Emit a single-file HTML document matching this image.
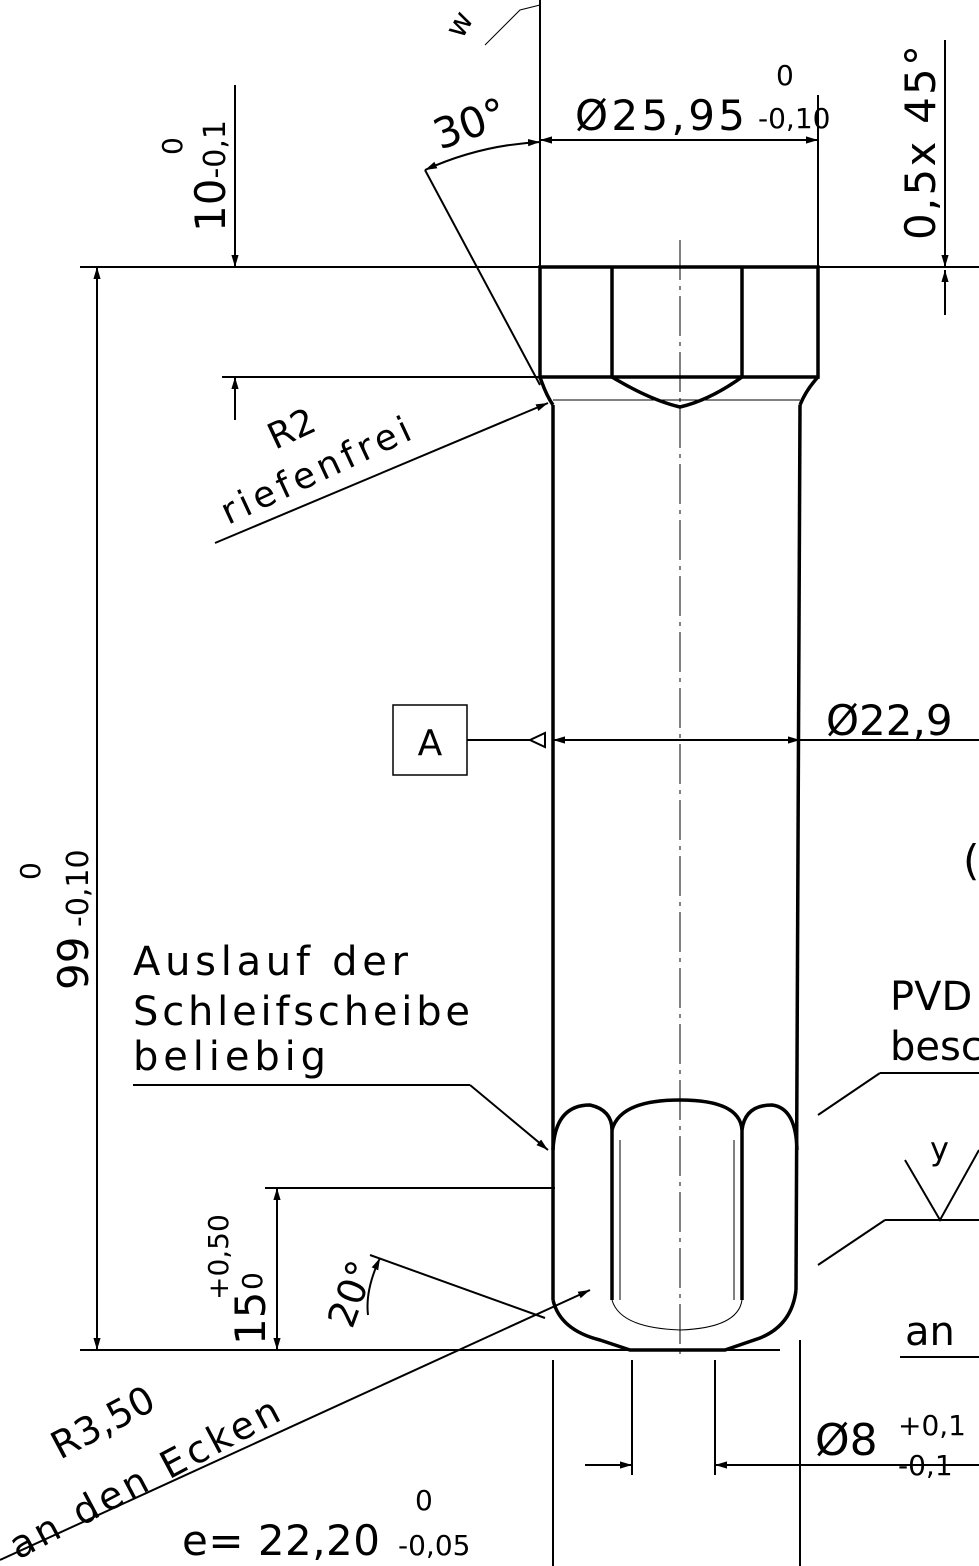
<!DOCTYPE html>
<html><head><meta charset="utf-8"><style>
html,body{margin:0;padding:0;background:#fff}
svg{display:block}
text{font-family:"DejaVu Sans","Liberation Sans",sans-serif;fill:#000}
</style></head><body>
<svg width="979" height="1566" viewBox="0 0 979 1566" xmlns="http://www.w3.org/2000/svg">
<defs>
<marker id="ar" viewBox="0 0 10 10" refX="10" refY="5" markerWidth="12" markerHeight="12" orient="auto-start-reverse" markerUnits="userSpaceOnUse"><path d="M0,2 L10,5 L0,8 z" fill="#000"/></marker>
</defs>
<g stroke="#000" fill="none" stroke-width="2">
<line x1="80" y1="267" x2="979" y2="267"/>
<line x1="80" y1="1350" x2="780" y2="1350"/>
<line x1="222" y1="377" x2="540" y2="377"/>
<line x1="265" y1="1188" x2="555" y2="1188"/>
<line x1="680" y1="240" x2="680" y2="1360" stroke-dasharray="40,6,4,6" stroke-width="1"/>
<path d="M540,267 L818,267 L818,377 L540,377 Z" stroke-width="3.5"/>
<line x1="612" y1="267" x2="612" y2="377" stroke-width="3.5"/>
<line x1="742" y1="267" x2="742" y2="377" stroke-width="3.5"/>
<path d="M612,377 Q650,400 680,407 Q710,400 742,377" stroke-width="3.5"/>
<path d="M540,377 Q546,395 553,405 M818,377 Q806,390 800,405" stroke-width="3.5"/>
<line x1="553" y1="400" x2="800" y2="400" stroke-width="1"/>
<line x1="553" y1="405" x2="553" y2="1300" stroke-width="3.5"/>
<line x1="800" y1="405" x2="796" y2="1290" stroke-width="3.5"/>
<path d="M553,1150 Q555,1105 590,1105 Q612,1110 612,1130 M612,1130 Q620,1100 680,1100 Q740,1100 742,1130 M742,1130 Q745,1105 772,1105 Q796,1108 797,1150" stroke-width="3.5"/>
<line x1="612" y1="1130" x2="612" y2="1300" stroke-width="3.5"/>
<line x1="742" y1="1130" x2="742" y2="1300" stroke-width="3.5"/>
<line x1="620" y1="1140" x2="620" y2="1300" stroke-width="1"/>
<line x1="734" y1="1140" x2="734" y2="1300" stroke-width="1"/>
<path d="M553,1300 Q560,1330 600,1340 L630,1350 L725,1350 L760,1338 Q792,1325 796,1290" stroke-width="3.5"/>
<path d="M612,1300 Q620,1328 680,1330 Q738,1328 742,1300" stroke-width="1"/>
<line x1="97" y1="267" x2="97" y2="1350" marker-start="url(#ar)" marker-end="url(#ar)"/>
<line x1="235" y1="85" x2="235" y2="267" marker-end="url(#ar)"/>
<line x1="235" y1="420" x2="235" y2="377" marker-end="url(#ar)"/>
<line x1="540" y1="0" x2="540" y2="267"/>
<line x1="818" y1="95" x2="818" y2="267"/>
<line x1="540" y1="140" x2="818" y2="140" marker-start="url(#ar)" marker-end="url(#ar)"/>
<line x1="425" y1="170" x2="540" y2="385"/>
<path d="M425,170 Q480,145 540,142" marker-start="url(#ar)" marker-end="url(#ar)"/>
<line x1="945" y1="40" x2="945" y2="267" marker-end="url(#ar)"/>
<line x1="945" y1="315" x2="945" y2="270" marker-end="url(#ar)"/>
<path d="M485,45 L520,10 L540,5" stroke-width="1"/>
<line x1="215" y1="543" x2="548" y2="403" marker-end="url(#ar)"/>
<line x1="467" y1="740" x2="530" y2="740"/>
<path d="M530,740 L545,733 L545,747 Z" fill="none"/>
<line x1="553" y1="740" x2="800" y2="740" marker-start="url(#ar)" marker-end="url(#ar)"/>
<line x1="800" y1="740" x2="979" y2="740"/>
<line x1="133" y1="1085" x2="470" y2="1085"/>
<line x1="470" y1="1085" x2="548" y2="1150" marker-end="url(#ar)"/>
<line x1="880" y1="1073" x2="979" y2="1073"/>
<line x1="880" y1="1073" x2="818" y2="1115"/>
<path d="M905,1160 L940,1220 L979,1150"/>
<line x1="885" y1="1220" x2="979" y2="1220"/>
<line x1="885" y1="1220" x2="818" y2="1265"/>
<line x1="900" y1="1357" x2="979" y2="1357"/>
<line x1="277" y1="1188" x2="277" y2="1350" marker-start="url(#ar)" marker-end="url(#ar)"/>
<line x1="370" y1="1255" x2="545" y2="1318"/>
<path d="M380,1258 Q365,1290 368,1315" marker-start="url(#ar)"/>
<line x1="0" y1="1560" x2="590" y2="1290" marker-end="url(#ar)"/>
<line x1="553" y1="1360" x2="553" y2="1566"/>
<line x1="800" y1="1340" x2="800" y2="1566"/>
<line x1="632" y1="1360" x2="632" y2="1475"/>
<line x1="715" y1="1360" x2="715" y2="1475"/>
<line x1="585" y1="1465" x2="632" y2="1465" marker-end="url(#ar)"/>
<line x1="979" y1="1465" x2="715" y2="1465" marker-end="url(#ar)"/>
</g>
<rect x="393" y="705" width="74" height="70" fill="none" stroke="#000" stroke-width="1.5"/>
<text x="430" y="755" font-size="36" text-anchor="middle">A</text>
<text transform="translate(462,40) rotate(-60)" font-size="30">w</text>
<text transform="translate(440,150) rotate(-20)" font-size="42">30°</text>
<text x="575" y="130" font-size="42" textLength="170">Ø25,95</text>
<text x="758" y="128" font-size="28">-0,10</text>
<text x="776" y="85" font-size="28">0</text>
<text transform="translate(935,240) rotate(-90)" font-size="42" textLength="195">0,5x 45°</text>
<text transform="translate(225,232) rotate(-90)" font-size="42">10<tspan font-size="30">-0,1</tspan></text>
<text transform="translate(182,155) rotate(-90)" font-size="28">0</text>
<text transform="translate(275,450) rotate(-25)" font-size="36">R2</text>
<text transform="translate(228,525) rotate(-25)" font-size="36" textLength="205">riefenfrei</text>
<text x="826" y="735" font-size="42">Ø22,9</text>
<text x="963" y="875" font-size="42">(</text>
<text transform="translate(88,990) rotate(-90)" font-size="42">99<tspan font-size="30"> -0,10</tspan></text>
<text transform="translate(40,880) rotate(-90)" font-size="28">0</text>
<text font-size="40"><tspan x="133" y="975" textLength="275">Auslauf der</tspan><tspan x="133" y="1025" textLength="337">Schleifscheibe</tspan><tspan x="133" y="1070" textLength="193">beliebig</tspan></text>
<text font-size="40"><tspan x="890" y="1010">PVD</tspan><tspan x="890" y="1060">besc</tspan></text>
<text x="930" y="1160" font-size="32">y</text>
<text x="905" y="1345" font-size="40">an</text>
<text transform="translate(265,1345) rotate(-90)" font-size="42">15</text>
<text transform="translate(262,1290) rotate(-90)" font-size="28">0</text>
<text transform="translate(228,1300) rotate(-90)" font-size="28">+0,50</text>
<text transform="translate(352,1330) rotate(-70)" font-size="38">20°</text>
<text transform="translate(60,1460) rotate(-28)" font-size="38">R3,50</text>
<text transform="translate(18,1560) rotate(-28)" font-size="38" textLength="300">an den Ecken</text>
<text x="182" y="1555" font-size="42" textLength="198">e= 22,20</text>
<text x="398" y="1555" font-size="28">-0,05</text>
<text x="415" y="1510" font-size="28">0</text>
<text x="815" y="1455" font-size="44">Ø8</text>
<text x="898" y="1435" font-size="28">+0,1</text>
<text x="898" y="1475" font-size="28">-0,1</text>
</svg>
</body></html>
